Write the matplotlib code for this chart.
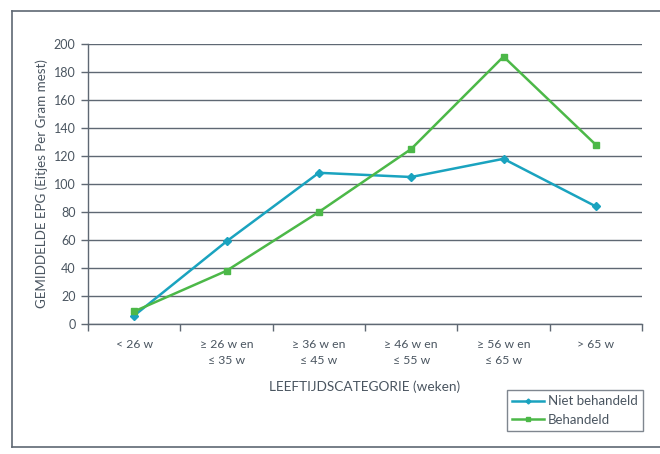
import matplotlib
matplotlib.use("Agg")
import matplotlib.pyplot as plt
from matplotlib.lines import Line2D

plt.rcParams['font.family'] = ['Lato', 'DejaVu Sans']

categories = ["< 26 w", "\u2265 26 w en\n\u2264 35 w", "\u2265 36 w en\n\u2264 45 w",
              "\u2265 46 w en\n\u2264 55 w", "\u2265 56 w en\n\u2264 65 w", "> 65 w"]
niet_behandeld = [6, 59, 108, 105, 118, 84]
behandeld = [9, 38, 80, 125, 191, 128]
y_ticks = list(range(0, 201, 20))

text_col = "#4a5560"
grid_col = "#5f6873"
teal = "#1aa3bf"
green = "#4cb848"

fig = plt.figure(figsize=(6.6, 4.54), dpi=100)
ax = fig.add_axes([88/660, 1-324/454, (642-88)/660, (324-44)/454])

x = list(range(len(categories)))
ax.plot(x, niet_behandeld, color=teal, lw=1.8, marker="D", ms=4.5, label="Niet behandeld", zorder=3)
ax.plot(x, behandeld, color=green, lw=1.8, marker="s", ms=5, label="Behandeld", zorder=3)

ax.set_xlim(-0.5, len(categories) - 0.5)
ax.set_ylim(0, 200)
ax.set_yticks(y_ticks)
ax.set_xticks(x)
ax.set_xticklabels(categories, linespacing=1.55)
ax.set_xticks([i - 0.5 for i in range(len(categories) + 1)], minor=True)
ax.tick_params(axis="x", which="major", length=0, pad=11, labelsize=8.8, colors=text_col)
ax.tick_params(axis="x", which="minor", length=5, width=1, color=grid_col)
ax.tick_params(axis="y", length=5, width=1, color=grid_col, labelsize=9, labelcolor=text_col, pad=4)

ax.grid(axis="y", color=grid_col, lw=1)
ax.set_axisbelow(True)
for s in ["top", "right"]:
    ax.spines[s].set_visible(False)
for s in ["left", "bottom"]:
    ax.spines[s].set_color(grid_col)
    ax.spines[s].set_linewidth(1)

ax.set_ylabel("GEMIDDELDE EPG (Eitjes Per Gram mest)", fontsize=9.6, color=text_col, labelpad=4)
ax.set_xlabel("LEEFTIJDSCATEGORIE (weken)", fontsize=9.8, color=text_col, labelpad=10)

handles = [Line2D([], [], color=teal, lw=1.8, marker="D", ms=2.5),
           Line2D([], [], color=green, lw=1.8, marker="s", ms=3)]
leg = fig.legend(handles, ["Niet behandeld", "Behandeld"],
                 loc="upper left", bbox_to_anchor=(507/660, 1-390/454),
                 frameon=True, fancybox=False, fontsize=9.5, handlelength=2.4,
                 handletextpad=0.3, borderpad=0.4, labelspacing=0.5, borderaxespad=0)
leg.get_frame().set_edgecolor(grid_col)
leg.get_frame().set_linewidth(1)
for t in leg.get_texts():
    t.set_color(text_col)

# outer frame (open on the right side)
l, t_, b = 12/660, 1-11/454, 1-447/454
fig.add_artist(Line2D([l, 1], [t_, t_], color=grid_col, lw=1.2, transform=fig.transFigure))
fig.add_artist(Line2D([l, 1], [b, b], color=grid_col, lw=1.2, transform=fig.transFigure))
fig.add_artist(Line2D([l, l], [b, t_], color=grid_col, lw=1.2, transform=fig.transFigure))

fig.savefig("out.png", dpi=100)
